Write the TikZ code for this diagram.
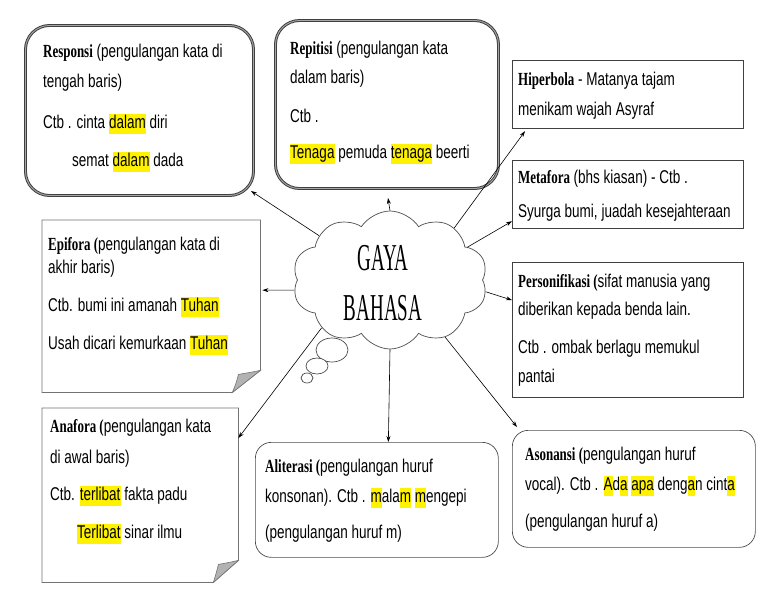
\documentclass[tikz,border=0pt]{standalone}
\usepackage{fontspec}
\setmainfont{Liberation Sans}[FakeStretch=0.73]
\newfontfamily\judulfont{Liberation Serif}[FakeStretch=0.5]
\newfontfamily\tebalfont{Liberation Serif}[FakeStretch=0.7]
\usetikzlibrary{shapes.symbols,arrows.meta}

\newcommand{\kuning}[1]{{\setlength{\fboxsep}{0pt}\colorbox{yellow}{\strut #1}}}
\newcommand{\istilah}[1]{{\tebalfont\bfseries #1}}

\begin{document}
\begin{tikzpicture}[x=1pt,y=-1pt,
    tepi/.style={anchor=north west, inner sep=0pt},
    bulat/.style={tepi, draw=black!75, line width=1pt, double=black!35, double distance=0.9pt, rounded corners=24pt},
    kotak/.style={tepi, draw=black!75, line width=1.2pt},
    lengkung/.style={tepi, draw=black!70, line width=0.7pt, rounded corners=16pt},
    baris/.style={anchor=base west, inner sep=0pt, font=\fontsize{18.5}{20}\selectfont},
    panah/.style={-{Stealth[length=6pt,width=4pt]}, line width=0.6pt}]
    \fill[white] (0,0) rectangle (768,594);
    \useasboundingbox (0,0) rectangle (768,594);

    % kotak-kotak
    \node[bulat, minimum width=228pt, minimum height=170pt] (responsi) at (25,25) {};
    \node[bulat, minimum width=223pt, minimum height=168pt] (repitisi) at (275,20) {};
    \node[kotak, minimum width=231pt, minimum height=68pt] (hiperbola) at (512,60) {};
    \node[kotak, minimum width=231pt, minimum height=68pt] (metafora) at (512,160) {};
    \node[kotak, minimum width=231pt, minimum height=135pt] (personifikasi) at (512,262) {};
    \node[tepi, minimum width=218pt, minimum height=172pt] (epifora) at (42,220) {};
    \node[tepi, minimum width=196pt, minimum height=174pt] (anafora) at (42,408) {};
    \node[lengkung, minimum width=243pt, minimum height=115pt] (aliterasi) at (255,442) {};
    \node[lengkung, minimum width=243pt, minimum height=117pt] (asonansi) at (512,430) {};

    % kertas berlipat
    \draw[black!55, line width=0.8pt] (epifora.north west) -- (epifora.north east) -- ([yshift=22pt]epifora.south east) -- ([xshift=-28pt]epifora.south east) -- (epifora.south west) -- cycle;
    \filldraw[fill=black!30, draw=black!55, line width=0.6pt] ([yshift=22pt]epifora.south east) .. controls ([xshift=-10pt,yshift=20pt]epifora.south east) .. ([xshift=-22pt,yshift=18pt]epifora.south east) .. controls ([xshift=-24pt,yshift=10pt]epifora.south east) .. ([xshift=-28pt]epifora.south east) -- cycle;
    \draw[black!55, line width=0.8pt] (anafora.north west) -- (anafora.north east) -- ([yshift=22pt]anafora.south east) -- ([xshift=-25pt]anafora.south east) -- (anafora.south west) -- cycle;
    \filldraw[fill=black!30, draw=black!55, line width=0.6pt] ([yshift=22pt]anafora.south east) .. controls ([xshift=-9pt,yshift=20pt]anafora.south east) .. ([xshift=-20pt,yshift=18pt]anafora.south east) .. controls ([xshift=-22pt,yshift=10pt]anafora.south east) .. ([xshift=-25pt]anafora.south east) -- cycle;

    % awan
    \filldraw[fill=white, draw=black!70, line width=0.7pt] (332,350) ellipse [x radius=16pt, y radius=12pt];
    \filldraw[fill=white, draw=black!70, line width=0.7pt] (317,366) ellipse [x radius=11pt, y radius=8pt];
    \filldraw[fill=white, draw=black!70, line width=0.7pt] (307,378) ellipse [x radius=6pt, y radius=5pt];
    \node[cloud, cloud puffs=10, cloud puff arc=115, aspect=1.4, minimum width=195pt, minimum height=138pt, inner sep=0pt,
        fill=white, draw=black!70, line width=0.7pt] (awan) at (390,280) {};
    \node[align=center, inner sep=0pt, font=\judulfont\fontsize{38}{50}\selectfont] (judul) at (383,283) {GAYA\\BAHASA};

    % teks
    \node[baris] (res1) at (43,58) {\istilah{Responsi} (pengulangan kata di};
    \node[baris] (res2) at (43,88) {tengah baris)};
    \node[baris] (res3) at (43,128) {Ctb . cinta \kuning{dalam} diri};
    \node[baris] (res4) at (72,166) {semat \kuning{dalam} dada};

    \node[baris] (rep1) at (290,55) {\istilah{Repitisi} (pengulangan kata};
    \node[baris] (rep2) at (290,83) {dalam baris)};
    \node[baris] (rep3) at (290,122) {Ctb .};
    \node[baris] (rep4) at (290,158) {\kuning{Tenaga} pemuda \kuning{tenaga} beerti};

    \node[baris] (hip1) at (518,85) {\istilah{Hiperbola} - Matanya tajam};
    \node[baris] (hip2) at (518,115) {menikam wajah Asyraf};

    \node[baris] (met1) at (518,183) {\istilah{Metafora} (bhs kiasan) - Ctb .};
    \node[baris] (met2) at (518,217) {Syurga bumi, juadah kesejahteraan};

    \node[baris] (per1) at (518,287) {\istilah{Personifikasi (}sifat manusia yang};
    \node[baris] (per2) at (518,315) {diberikan kepada benda lain.};
    \node[baris] (per3) at (518,353) {Ctb . ombak berlagu memukul};
    \node[baris] (per4) at (518,382) {pantai};

    \node[baris] (epi1) at (48,250) {\istilah{Epifora (}pengulangan kata di};
    \node[baris] (epi2) at (48,273) {akhir baris)};
    \node[baris] (epi3) at (48,311) {Ctb. bumi ini amanah \kuning{Tuhan}};
    \node[baris] (epi4) at (48,349) {Usah dicari kemurkaan \kuning{Tuhan}};

    \node[baris] (ana1) at (50,432) {\istilah{Anafora (}pengulangan kata};
    \node[baris] (ana2) at (50,463) {di awal baris)};
    \node[baris] (ana3) at (50,500) {Ctb. \kuning{terlibat} fakta padu};
    \node[baris] (ana4) at (77,538) {\kuning{Terlibat} sinar ilmu};

    \node[baris] (ali1) at (265,472) {\istilah{Aliterasi (}pengulangan huruf};
    \node[baris] (ali2) at (265,502) {konsonan). Ctb . \kuning{m}ala\kuning{m} \kuning{m}engepi};
    \node[baris] (ali3) at (265,538) {(pengulangan huruf m)};

    \node[baris] (aso1) at (525,460) {\istilah{Asonansi (}pengulangan huruf};
    \node[baris] (aso2) at (525,490) {vocal). Ctb . \kuning{A}d\kuning{a} \kuning{apa} deng\kuning{a}n cint\kuning{a}};
    \node[baris] (aso3) at (525,527) {(pengulangan huruf a)};

    % panah
    \draw[panah] (awan.148) -- ([shift={(-3pt,5pt)}]responsi.south east);
    \draw[panah] (awan.90) -- ([xshift=1pt,yshift=-9pt]repitisi.south);
    \draw[panah] (awan.39) -- ([xshift=13pt,yshift=-2pt]hiperbola.south west);
    \draw[panah] (awan.23) -- ([yshift=8pt]metafora.south west);
    \draw[panah] (awan.-7) -- ([yshift=30pt]personifikasi.west);
    \draw[panah] (awan.186) -- ([xshift=2pt,yshift=16pt]epifora.east);
    \draw[panah] (awan.215) -- ([yshift=-30pt]anafora.north east);
    \draw[panah] (awan.270) -- ([xshift=11.5pt]aliterasi.north);
    \draw[panah] (awan.314) -- ([shift={(5pt,3pt)}]asonansi.north west);
\end{tikzpicture}
\end{document}
